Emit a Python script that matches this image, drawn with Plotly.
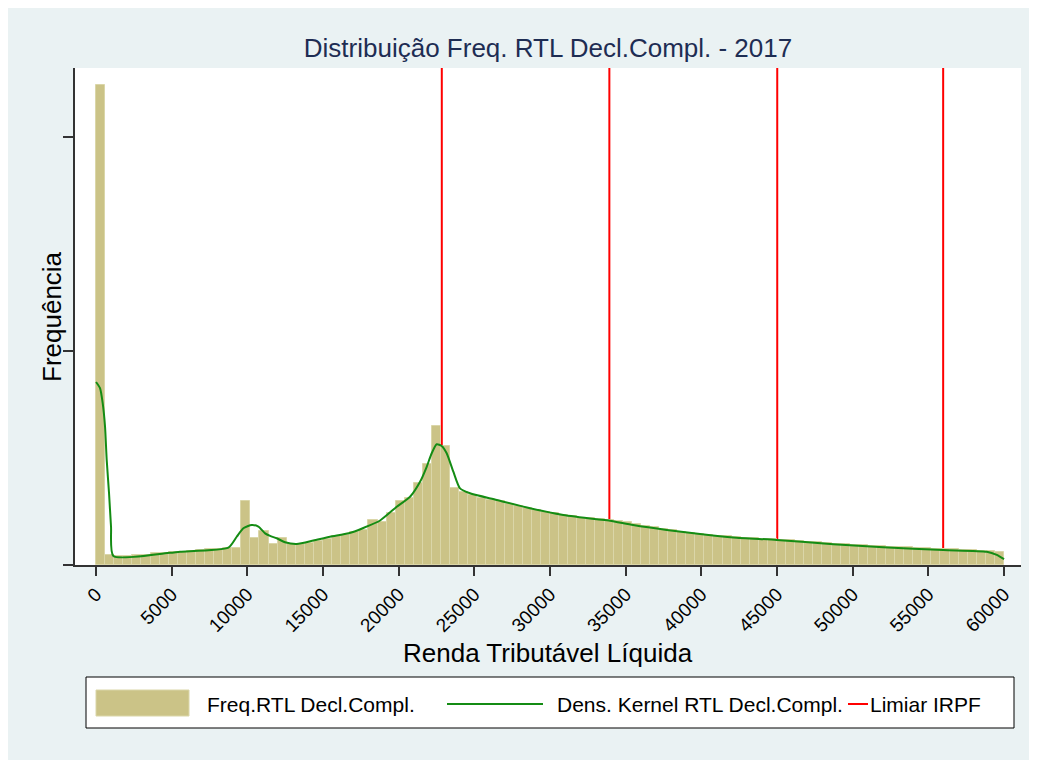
import plotly.graph_objects as go

# ---------------- data ----------------
bin_width = 600
bin_starts = [i * bin_width for i in range(100)]  # 0 .. 59400
freq = [224.3, 4.7, 4.2, 4.4, 4.7, 4.9, 5.4, 5.6, 6.1, 6.3,
        6.5, 6.8, 7.7, 7.7, 7.9, 7.9, 30.1, 12.4, 15.7, 9.8,
        12.4, 9.6, 10.0, 10.5, 11.2, 12.1, 13.6, 14.0, 15.4, 16.4,
        20.8, 20.1, 24.3, 29.7, 31.1, 38.1, 47.4, 65.0, 55.8, 36.2,
        34.1, 32.7, 31.5, 30.6, 29.7, 28.5, 27.6, 26.6, 25.7, 24.9,
        24.2, 23.4, 22.8, 22.1, 21.8, 21.5, 21.2, 20.7, 20.0, 19.2,
        18.4, 17.6, 16.8, 16.2, 15.6, 15.1, 14.5, 14.0, 13.7, 13.4,
        13.1, 12.8, 12.5, 12.2, 12.1, 11.8, 11.5, 11.2, 10.9, 10.6,
        10.3, 10.0, 9.6, 9.4, 9.2, 9.0, 8.8, 8.6, 8.4, 8.2,
        8.0, 7.9, 7.7, 7.5, 7.3, 7.1, 6.9, 6.7, 6.5, 6.3]

kde_x = [0, 264, 440, 595, 705, 859, 991, 1145, 4890, 5550, 8745, 9295, 9735,
         10290, 10730, 11170, 11500, 11940, 12490, 13260, 14360, 15460, 16700,
         17660, 18770, 19870, 20750, 21410, 21850, 22180, 22510, 22840, 23170,
         23610, 24050, 24710, 26480, 28680, 30880, 33090, 33970, 35490, 37710,
         39910, 42110, 44980, 48720, 52020, 55990, 58860, 59520, 60000]
kde_y = [85.5, 82.6, 75.6, 64.6, 49.1, 33.5, 17.9, 4.2, 5.7, 6.2, 8.1, 13.2, 17.2,
         18.7, 17.9, 14.8, 13.6, 12.5, 10.6, 9.8, 11.4, 13.2, 14.8,
         17.3, 20.8, 27.2, 31.9, 38.9, 45.9, 52.2, 56.4, 55.6, 52.2,
         43.6, 35.8, 33.5, 30.4, 26.5, 23.4, 21.4, 20.7, 18.7, 16.4,
         14.5, 12.9, 11.7, 9.7, 8.3, 7.0, 6.2, 4.7, 2.7]

limiar_irpf = [22847.76, 33919.80, 45012.60, 55976.16]

x_ticks = list(range(0, 60001, 5000))
y_ticks = [0, 100, 200]

# ---------------- figure ----------------
BAR_COLOR = "#cbc387"
GREEN = "#148c14"
RED = "#ff0000"
FONT = "Liberation Sans, Arial, sans-serif"

fig = go.Figure()

fig.add_trace(go.Bar(
    x=[s + bin_width / 2 for s in bin_starts], y=freq, width=bin_width,
    marker=dict(color=BAR_COLOR, line=dict(color="#dad6a8", width=1)),
    name="Freq.RTL Decl.Compl.", showlegend=False))

fig.add_trace(go.Scatter(
    x=kde_x, y=kde_y, mode="lines", line=dict(color=GREEN, width=2, shape="spline", smoothing=0.6),
    name="Dens. Kernel RTL Decl.Compl.", showlegend=False))

shapes = []
for v in limiar_irpf:
    shapes.append(dict(type="line", xref="x", yref="paper", x0=v, x1=v, y0=0, y1=1,
                       line=dict(color=RED, width=2), layer="below"))

# manual legend (Stata style)
# paper coords: px -> (px-75)/946 ; py -> (565-py)/497
def px(xp):
    return (xp - 75) / 946.0

def py(yp):
    return (565 - yp) / 497.0

LEG_FONT = dict(size=21, color="black", family=FONT)
shapes.append(dict(type="rect", xref="paper", yref="paper", x0=px(86), x1=px(1014),
                   y0=py(677), y1=py(728), fillcolor="white",
                   line=dict(color="black", width=1)))
shapes.append(dict(type="rect", xref="paper", yref="paper", x0=px(96), x1=px(189),
                   y0=py(690), y1=py(716), fillcolor=BAR_COLOR,
                   line=dict(color="#dad6a8", width=1)))
shapes.append(dict(type="line", xref="paper", yref="paper", x0=px(447), x1=px(543),
                   y0=py(704), y1=py(704), line=dict(color=GREEN, width=2)))
shapes.append(dict(type="line", xref="paper", yref="paper", x0=px(848), x1=px(868),
                   y0=py(704), y1=py(704), line=dict(color=RED, width=2)))

annotations = [
    dict(text="Freq.RTL Decl.Compl.", xref="paper", yref="paper", x=px(205), y=py(704),
         xanchor="left", yanchor="middle", showarrow=False, font=LEG_FONT),
    dict(text="Dens. Kernel RTL Decl.Compl.", xref="paper", yref="paper", x=px(555), y=py(704),
         xanchor="left", yanchor="middle", showarrow=False, font=LEG_FONT),
    dict(text="Limiar IRPF", xref="paper", yref="paper", x=px(868), y=py(704),
         xanchor="left", yanchor="middle", showarrow=False, font=LEG_FONT),
    dict(text="Renda Tributável Líquida", xref="paper", yref="paper", x=0.5, y=py(653),
         xanchor="center", yanchor="middle", showarrow=False, font=dict(size=26, color="black", family=FONT)),
    dict(text="Frequência", xref="paper", yref="paper", x=px(52), y=py(317), textangle=-90,
         xanchor="center", yanchor="middle", showarrow=False, font=dict(size=26, color="black", family=FONT)),
]

# the page places the figure 8px from the top-left corner; compensate
fig.update_layout(
    width=1029, height=752,
    paper_bgcolor="#eaf2f3", plot_bgcolor="white",
    margin=dict(l=67, r=16, t=60, b=195),
    title=dict(text="Distribuição Freq. RTL Decl.Compl. - 2017", x=0.5, xref="paper",
               y=1 - 40 / 752, yanchor="middle",
               font=dict(size=26, color="#1e2d53", family=FONT)),
    bargap=0,
    shapes=shapes, annotations=annotations,
    showlegend=False,
    font=dict(family=FONT, color="black"),
)

fig.update_xaxes(range=[-1390, 61120], tickvals=x_ticks, ticktext=[str(t) for t in x_ticks],
                 tickangle=-45, ticks="outside", ticklen=9, tickwidth=1.5, tickcolor="#333",
                 showline=True, linecolor="#333", linewidth=1.5, showgrid=False, zeroline=False,
                 tickfont=dict(size=19, color="black", family=FONT))
fig.update_yaxes(range=[0, 232.2], tickvals=y_ticks, showticklabels=False,
                 ticks="outside", ticklen=10, tickwidth=1.5, tickcolor="#333",
                 showline=True, linecolor="#333", linewidth=1.5, showgrid=False, zeroline=False)

fig.write_html("out.html")
